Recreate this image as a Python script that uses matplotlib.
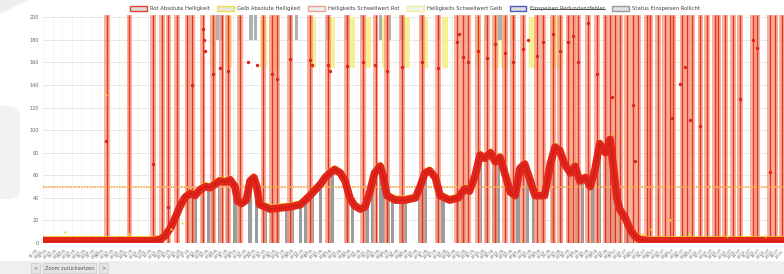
import matplotlib
matplotlib.use("Agg")
import matplotlib.pyplot as plt
import pandas as pd
from matplotlib.patches import Patch, Rectangle, FancyBboxPatch, Polygon
from matplotlib.lines import Line2D
from matplotlib.transforms import ScaledTranslation

# Messwerte (x in Tagen ab Start)
tage = [0.0, 6.0, 11.3, 12.3, 12.8, 13.4, 13.9, 14.4, 14.9, 15.5, 16.0, 16.5, 17.1, 17.6,
        18.1, 18.6, 19.2, 19.7, 20.2, 20.5, 20.9, 21.4, 21.8, 22.2, 22.5, 22.8, 23.4, 23.9,
        24.9, 26.0, 27.1, 28.1, 29.2, 29.7, 30.2, 30.7, 31.3, 31.8, 32.3, 32.8, 33.4, 33.9,
        34.4, 34.9, 35.5, 35.8, 36.2, 37.1, 38.1, 39.2, 39.7, 40.2, 40.7, 41.3, 41.8, 42.8,
        43.7, 44.4, 44.9, 45.5, 46.0, 46.5, 47.1, 47.6, 48.1, 48.6, 49.2, 49.7, 50.2, 50.7,
        51.1, 51.8, 52.8, 53.4, 53.9, 54.4, 54.9, 55.5, 56.0, 56.5, 57.1, 57.6, 58.1, 58.6,
        59.2, 59.7, 60.0, 60.4, 60.7, 61.3, 61.8, 62.3, 62.8, 63.9, 78.0]
rot_hell = [2, 2, 2, 3, 6, 13, 22, 32, 40, 44, 42, 47, 50, 49,
            52, 55, 54, 56, 50, 37, 35, 38, 55, 58, 50, 34, 32, 30,
            31, 32, 34, 42, 52, 58, 62, 65, 62, 55, 40, 33, 30, 32,
            45, 62, 68, 60, 42, 38, 38, 40, 50, 62, 64, 58, 42, 38,
            40, 48, 46, 60, 78, 75, 80, 72, 76, 62, 45, 42, 66, 70,
            60, 42, 42, 70, 85, 82, 70, 62, 68, 55, 58, 50, 65, 88,
            80, 92, 70, 40, 30, 22, 12, 6, 3, 2, 2]

schwellwert_rot = 50

# Spruenge (Rot, bis 200)
rot_spitzen = [6.7, 9.1, 11.6, 12.5, 13.2, 14.1, 15.2, 15.7, 16.8,
               17.9, 18.8, 19.5, 20.7, 23.2, 24.1, 24.6, 26.0, 28.1, 30.0, 32.0, 33.7,
               35.0, 36.2, 37.8, 39.9, 41.6, 43.6, 44.2, 44.7, 45.8, 46.7, 47.6, 48.6,
               49.5, 50.5, 52.0, 52.6, 53.7, 54.4, 55.3, 55.8, 56.3, 57.4, 58.3,
               59.2, 59.7, 60.2, 60.7, 61.5, 62.1, 62.6, 63.6, 63.9, 64.7, 65.5, 66.0,
               66.3, 67.3, 67.8, 68.3, 69.2, 69.9, 70.7, 71.1, 71.8, 72.6, 73.4, 74.7,
               75.2, 76.5, 77.1, 77.8]

# Status Einspeisen
status_tage = [15.3, 16.0, 16.8, 17.4, 17.9, 18.6, 19.4, 20.2, 20.7, 21.8, 22.5, 23.4,
               24.1, 24.7, 25.7, 26.2, 27.1, 27.6, 28.3, 29.2, 30.2, 30.5, 32.0, 32.6,
               34.1, 34.7, 35.5, 35.8, 36.3, 36.8, 37.6, 38.1, 39.7, 40.2, 41.5, 42.1,
               43.6, 44.2, 46.0, 46.7, 47.4, 47.9, 49.4, 50.0, 51.0, 51.6, 52.6, 53.7,
               54.6, 55.5, 56.2, 56.8, 57.9, 58.6, 59.4, 60.0, 60.7, 61.3, 61.8]
status_oben = [18.4, 18.8, 20.7, 21.9, 22.4, 26.0, 26.7, 30.0, 32.0, 33.7, 35.5, 36.5,
               37.8, 39.9, 41.6, 46.7, 48.1, 49.5]

# Gelb-Schwellwert Spalten
gelb_tage = [17.9, 19.5, 23.2, 24.4, 28.4, 30.4, 32.5, 34.2, 36.0, 38.3, 40.2, 42.3,
             45.8, 47.6, 48.6, 51.5, 53.7, 54.4]

# einzelne Ausreisser
punkte_rot_x = [16.8, 16.9, 17.0, 17.9, 18.6, 19.5, 21.6, 22.5, 24.1, 24.6, 26.0, 28.1,
                28.3, 30.0, 30.2, 32.0, 33.7, 34.9, 36.2, 37.8, 39.9, 41.6, 43.6, 43.8,
                44.2, 44.7, 45.8, 46.7, 47.6, 48.6, 49.5, 50.5, 51.0, 52.0, 52.6, 53.7,
                54.4, 55.3, 55.8, 56.3, 57.4, 58.3,
                6.6, 11.6, 13.2, 15.7, 59.9, 62.1, 67.1, 67.6, 66.2, 68.1, 69.2, 73.4,
                74.7, 75.2, 76.5, 62.3]
punkte_rot_y = [190, 180, 170, 150, 155, 152, 160, 158, 150, 145, 163, 162,
                158, 158, 152, 157, 160, 158, 152, 156, 160, 155, 178, 185,
                165, 160, 170, 164, 176, 168, 160, 172, 180, 166, 178, 185,
                170, 178, 183, 160, 195, 150,
                90, 70, 32, 140, 129, 122, 141, 156, 111, 109, 104, 128,
                180, 173, 63, 73]
punkte_gelb_x = [2.3, 6.6, 9.0, 13.5, 14.6, 63.0, 64.0, 66.0, 68.0, 72.0, 76.0]
punkte_gelb_y = [10, 131, 8, 12, 18, 8, 12, 20, 8, 6, 6]

tick_labels = list(pd.date_range("2019-05-01", periods=79, freq="D").strftime("%d.%m.\n%Y"))

fig = plt.figure(figsize=(7.84, 2.74), dpi=100)
W, H = 784, 274

# Seitenhintergrund
fig.patches.append(FancyBboxPatch((-10 / W, (H - 200) / H), 30 / W, 95 / H,
                                  boxstyle="round,pad=0,rounding_size=0.03",
                                  transform=fig.transFigure, facecolor="#f2f2f2",
                                  edgecolor="none", zorder=0))
fig.patches.append(Polygon([(0, 1), (28 / W, 1), (0, (H - 14) / H)], closed=True,
                           transform=fig.transFigure, facecolor="#eeeeee",
                           edgecolor="none", zorder=0))

ax = fig.add_axes([43 / W, 31 / H, (W - 43) / W, 228 / H])
ax.set_xlim(0, 78)
ax.set_ylim(0, 202)

# Gitter
ax.set_yticks(range(0, 201, 20))
ax.set_xticks(range(0, 79))
ax.grid(axis="y", color="#e4e4e4", lw=0.6)
ax.grid(axis="x", color="#f2f2f2", lw=0.5)
ax.set_axisbelow(True)
for s in ax.spines.values():
    s.set_visible(False)
ax.tick_params(length=0, labelsize=3.5, colors="#666666", pad=3)
ax.set_xticklabels(tick_labels, rotation=45, ha="right", fontsize=2.8, color="#666666",
                   linespacing=1.0)

# Status Einspeisen (unten, nur bis Helligkeit)
flaeche = ax.fill_between(tage, 0, rot_hell, facecolor="none", edgecolor="none")
bars = ax.bar(status_tage, 200, width=0.35, color="#9c9c9c", zorder=1)
for b in bars:
    b.set_clip_path(flaeche.get_paths()[0], transform=ax.transData)

# Gelb Schwellwert oben
ax.bar(gelb_tage, 45, bottom=155, width=0.7, color="#f4ee8a", alpha=0.9, zorder=1)
ax.bar(status_oben, 22, bottom=180, width=0.35, color="#b0b0b0", zorder=1.5)

# Rote Spalten und Spruenge
ax.bar(rot_spitzen, 202, width=0.6, color="#f39a80", alpha=0.75, zorder=2)
ax.vlines(rot_spitzen, 0, 202, color="#e8341f", lw=1.0, zorder=2.5)

# Schwellwert Linie
ax.plot([0, 78], [schwellwert_rot, schwellwert_rot], color="#f8ad55", lw=1.3,
        ls=(0, (1, 0.5)), zorder=3)

# Gelb + Rot Absolute Helligkeit
versatz = ax.transData + ScaledTranslation(0, 2.0 / 72, fig.dpi_scale_trans)
ax.plot(tage, rot_hell, color="#efd322", lw=2.5, transform=versatz, zorder=3.5,
        solid_joinstyle="round")
ax.plot(tage, rot_hell, color="#e3261b", lw=5.5, zorder=4, solid_joinstyle="round")
ax.plot(tage, rot_hell, color="#c81a12", lw=1.2, zorder=4.2, alpha=0.6)
ax.scatter(punkte_gelb_x, punkte_gelb_y, s=3, color="#f0d82a", zorder=4.5, lw=0)
ax.scatter(punkte_rot_x, punkte_rot_y, s=6, color="#d8261a", zorder=5, lw=0)

# Legende
handles = [Patch(facecolor="#dcdcdc", edgecolor="#e2402a", lw=1),
           Patch(facecolor="#e6e6e6", edgecolor="#f0e040", lw=1),
           Patch(facecolor="#eeeeee", edgecolor="#f2a090", lw=1),
           Patch(facecolor="#f2f2f2", edgecolor="#f5ee9a", lw=1),
           Patch(facecolor="#dddddd", edgecolor="#4a5cc0", lw=1),
           Patch(facecolor="#e2e2e2", edgecolor="#999999", lw=1)]
namen = ["Rot Absolute Helligkeit", "Gelb Absolute Helligkeit",
         "Helligkeits Schwellwert Rot", "Helligkeits Schwellwert Gelb",
         "Einspeisen Redundanzfehler", "Status Einspeisen Rollicht"]
leg = fig.legend(handles, namen, loc="upper center", bbox_to_anchor=(415 / W, 0.995),
                 ncol=6, frameon=False, fontsize=3.8, handlelength=3.2,
                 handleheight=1.0, columnspacing=1.4, handletextpad=0.6)
for t in leg.get_texts():
    t.set_color("#444444")

# Untere Leiste mit Zoom-Knoepfen
fig.patches.append(Rectangle((0, 0), 1, 13 / H, transform=fig.transFigure,
                             facecolor="#efefef", edgecolor="none", zorder=0))
for x0, w, txt in [(31, 9, "<"), (43, 53, "Zoom zurücksetzen"), (99, 9, ">")]:
    fig.patches.append(Rectangle((x0 / W, 1 / H), w / W, 10 / H, transform=fig.transFigure,
                                 facecolor="#e4e4e4", edgecolor="#c8c8c8", lw=0.5))
    fig.text((x0 + w / 2) / W, 6 / H, txt, fontsize=3.6, color="#555555",
             ha="center", va="center")

fig.canvas.draw()
t = leg.get_texts()[4]
bb = t.get_window_extent()
fig.lines.append(Line2D([bb.x0 / W, bb.x1 / W], [(bb.y0 + bb.y1) / 2 / H] * 2,
                        transform=fig.transFigure, color="#444444", lw=0.6))

fig.savefig("out.png", dpi=100)
